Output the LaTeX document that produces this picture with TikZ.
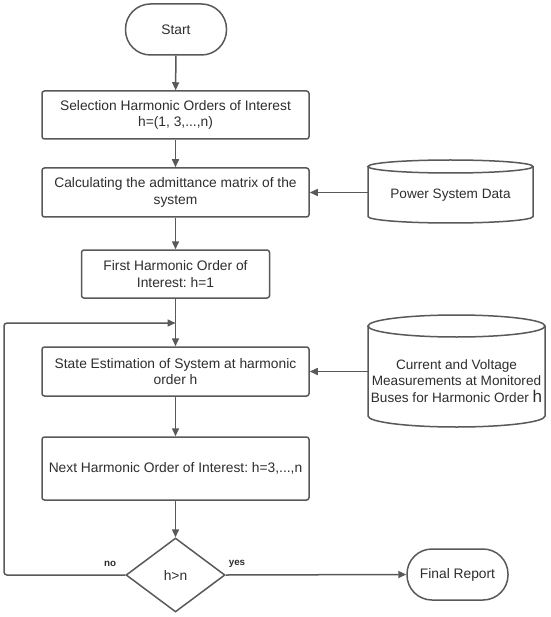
\documentclass[tikz,border=0pt]{standalone}
\usepackage{fontspec}
\setmainfont{Liberation Sans}
\frenchspacing
\usetikzlibrary{arrows.meta,shapes.geometric}
\definecolor{ln}{HTML}{595959}
\definecolor{tx}{HTML}{2E2E2E}
\tikzset{
  base/.style={draw=ln, line width=1.5pt, text=tx, font=\fontsize{13.8}{16.8}\selectfont\frenchspacing, align=center, inner sep=0pt},
  proc/.style={base, rectangle, rounded corners=2.5pt, minimum width=267pt},
  term/.style={base, rectangle, rounded corners=25pt, minimum width=101pt, minimum height=51pt},
  dec/.style={base, diamond, aspect=1.34, minimum width=99pt, minimum height=74pt},
  store/.style={rectangle, draw=none, text=tx, font=\fontsize{13.6}{16.3}\selectfont\frenchspacing, align=center, inner sep=0pt},
  flow/.style={draw=ln, line width=1.5pt, -{Triangle[length=8pt,width=7pt]}},
  lbl/.style={text=tx, font=\fontsize{9.8}{11}\selectfont\bfseries, inner sep=0pt},
  cyl/.style={draw=ln, line width=1.5pt}
}
\begin{document}
\begin{tikzpicture}[x=1pt,y=-1pt]
\useasboundingbox (0,0) rectangle (550,617);
\fill[white] (0,0) rectangle (550,617);

\node[term] (start) at (176,29.5) {Start};
\node[proc, minimum height=48pt] (b1) at (175.5,115) {Selection Harmonic Orders of Interest\\h=(1, 3,...,n)};
\node[proc, minimum height=49pt] (b2) at (175.5,192.5) {Calculating the admittance matrix of the\\system};
\node[proc, minimum width=188pt, minimum height=48pt] (b3) at (175.5,274) {First Harmonic Order of\\Interest: h=1};
\node[proc, minimum height=49pt] (b4) at (175.5,371.5) {State Estimation of System at harmonic\\order h};
\node[proc, minimum height=63pt] (b5) at (175.5,468.5) {Next Harmonic Order of Interest: h=3,...,n};
\node[dec] (d) at (175.5,575) {h>n};
\node[term] (fr) at (457.5,574.5) {Final Report};

% cylinder 1
\node[store, minimum width=165pt, minimum height=63pt] (c1) at (450.5,195) {Power System Data};
\draw[cyl] (368,166.5) -- (368,216.5) arc[start angle=180, end angle=360, x radius=82.5pt, y radius=6.5pt] -- (533,166.5);
\draw[cyl] (450.5,166.5) ellipse[x radius=82.5pt, y radius=6.5pt];

% cylinder 2
\node[store, minimum width=177pt, minimum height=90pt] (c2) at (456.5,381) {Current and Voltage\\Measurements at Monitored\\Buses for Harmonic Order {\fontsize{17}{16.3}\selectfont h}};
\draw[cyl] (368,326) -- (368,416) arc[start angle=180, end angle=360, x radius=88.5pt, y radius=11pt] -- (545,326);
\draw[cyl] (456.5,326) ellipse[x radius=88.5pt, y radius=11pt];

\coordinate (j) at (175.5,323);
\coordinate (lp) at (4,575);

\draw[flow] (start) -- (b1);
\draw[flow] (b1) -- (b2);
\draw[flow] (b2) -- (b3);
\draw[flow] (b3) -- (b4);
\draw[flow] (b4) -- (b5);
\draw[flow] (b5) -- (d);
\draw[flow] (d.east) -- (fr.west);
\draw[flow, rounded corners=3pt] (d.west) -- (lp) -- (lp |- j) -- (j);
\draw[flow] (c1.west |- b2.east) -- (b2.east);
\draw[flow] (c1.west |- b4.east) -- (b4.east);

\node[lbl] (no) at (110,564) {no};
\node[lbl] (yes) at (237,564) {yes};
\end{tikzpicture}
\end{document}
